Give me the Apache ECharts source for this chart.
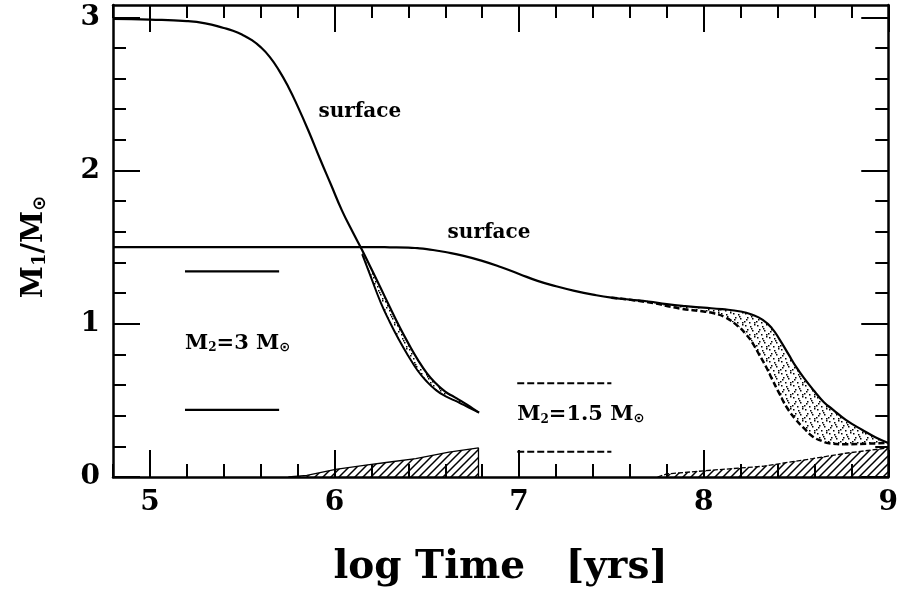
<!DOCTYPE html>
<html><head><meta charset="utf-8">
<script src="https://cdn.jsdelivr.net/npm/echarts@6/dist/echarts.min.js"></script>
<style>html,body{margin:0;padding:0;background:#fff}#c{width:901px;height:598px}</style>
</head><body><div id="c"></div>
<script>
// ---- tick values ----
const xMajorTicks = [5, 6, 7, 8, 9];
const xMinorTicks = [4.8, 5.2, 5.4, 5.6, 5.8, 6.2, 6.4, 6.6, 6.8, 7.2, 7.4, 7.6, 7.8, 8.2, 8.4, 8.6, 8.8];
const yMajorTicks = [0, 1, 2, 3];
const yMinorTicks = [0.2, 0.4, 0.6, 0.8, 1.2, 1.4, 1.6, 1.8, 2.2, 2.4, 2.6, 2.8];

// ---- M2 = 3 Msun ----
const surface3 = [[4.8,2.99],[5.0,2.985],[5.2,2.975],[5.3,2.96],[5.4,2.93],[5.45,2.912],[5.5,2.886],[5.55,2.852],[5.6,2.805],[5.65,2.74],[5.7,2.652],[5.75,2.545],[5.8,2.42],[5.86,2.256],[5.92,2.08],[5.98,1.91],[6.04,1.74],[6.1,1.595],[6.15,1.48],[6.2,1.357],[6.25,1.233],[6.3,1.108],[6.35,0.985],[6.4,0.872],[6.45,0.768],[6.5,0.678],[6.55,0.61],[6.6,0.557],[6.65,0.521],[6.7,0.485],[6.75,0.446],[6.783,0.42]];
const inner3 = [[6.15,1.455],[6.2,1.296],[6.25,1.14],[6.3,1.01],[6.35,0.894],[6.4,0.79],[6.45,0.695],[6.5,0.623],[6.55,0.567],[6.6,0.528],[6.65,0.5],[6.7,0.47],[6.75,0.44],[6.783,0.42]];
const hatch3 = [[5.75,0],[5.85,0.01],[6.006,0.05],[6.17,0.078],[6.3,0.098],[6.44,0.12],[6.62,0.162],[6.78,0.19],[6.78,0]];

// ---- M2 = 1.5 Msun ----
const surface15 = [[4.8,1.5],[6.0,1.5],[6.2,1.5],[6.3,1.499],[6.4,1.497],[6.45,1.493],[6.5,1.487],[6.55,1.478],[6.6,1.468],[6.7,1.443],[6.8,1.41],[6.9,1.37],[7.0,1.325],[7.1,1.28],[7.2,1.245],[7.3,1.215],[7.4,1.19],[7.5,1.17],[7.6,1.157],[7.7,1.145],[7.8,1.128],[7.9,1.115],[8.0,1.105],[8.1,1.095],[8.2,1.08],[8.26,1.06],[8.32,1.025],[8.37,0.97],[8.41,0.9],[8.46,0.8],[8.5,0.72],[8.55,0.635],[8.6,0.56],[8.65,0.49],[8.7,0.44],[8.77,0.373],[8.86,0.307],[8.93,0.26],[9.0,0.222]];
const inner15 = [[7.5,1.17],[7.7,1.14],[7.87,1.10],[8.0,1.08],[8.05,1.07],[8.12,1.04],[8.19,0.98],[8.23,0.93],[8.265,0.874],[8.3,0.8],[8.337,0.721],[8.37,0.64],[8.409,0.547],[8.45,0.455],[8.5,0.373],[8.55,0.31],[8.59,0.264],[8.64,0.235],[8.68,0.22],[8.77,0.214],[8.9,0.218],[9.0,0.222]];
const hatch15 = [[7.75,0],[7.8,0.02],[8.05,0.045],[8.32,0.07],[8.59,0.12],[8.77,0.155],[9.0,0.19]];

// ---- key marks ----
const keySolidTop = [[5.19,1.342],[5.70,1.342]];
const keySolidBottom = [[5.19,0.438],[5.70,0.438]];
const keyDashTop = [[6.99,0.612],[7.50,0.612]];
const keyDashBottom = [[6.99,0.165],[7.50,0.165]];

// ---- annotations ----
const surfaceLabelPos = [[6.137,2.38],[6.837,1.595]];
const surfaceLabelText = ['surface', 'surface'];
const keyLabelPos = [[5.19,0.87],[6.99,0.405]];
const keyLabelText = ['{m|M}{s|2}{m|=3 M}{o|⊙}', '{m|M}{s|2}{m|=1.5 M}{o|⊙}'];

// ---- patterns ----
function hatchCanvas() {
  const c = document.createElement('canvas'); c.width = 8; c.height = 8;
  const g = c.getContext('2d'); g.strokeStyle = '#000'; g.lineWidth = 1.5;
  g.beginPath(); g.moveTo(0,8); g.lineTo(8,0); g.moveTo(-1,1); g.lineTo(1,-1); g.moveTo(7,9); g.lineTo(9,7); g.stroke();
  return c;
}
function stippleCanvas() {
  const c = document.createElement('canvas'); c.width = 12; c.height = 12;
  const g = c.getContext('2d'); g.fillStyle = '#000';
  [[1,1],[6,2],[10,0],[3,5],[8,6],[0,9],[5,10],[10,10],[2,7],[7,4]].forEach(p => g.fillRect(p[0], p[1], 1.5, 1.5));
  return c;
}
const hatchPat = {image: hatchCanvas(), repeat: 'repeat'};
const stipPat = {image: stippleCanvas(), repeat: 'repeat'};

const serif = 'DejaVu Serif';
function bandSeries(upper, lower) {
  return {
    type: 'custom', xAxisIndex: 0, yAxisIndex: 0, data: [[upper[0][0], upper[0][1]]], silent: true, z: 1,
    renderItem: function (params, api) {
      const pts = [];
      upper.forEach(p => pts.push(api.coord(p)));
      lower.slice().reverse().forEach(p => pts.push(api.coord(p)));
      return {type: 'polygon', shape: {points: pts}, style: {fill: stipPat, stroke: null}};
    }
  };
}
function line(data, opts) {
  return Object.assign({type: 'line', data: data, xAxisIndex: 0, yAxisIndex: 0, symbol: 'none', smooth: 0.5,
    lineStyle: {color: '#000', width: 2.2}, silent: true, z: 3}, opts || {});
}
const xBase = {type: 'value', min: 4.8, max: 9, splitLine: {show: false}};
const yBase = {type: 'value', min: 0, max: 3.08, splitLine: {show: false}};
function ax(base, extra) { return Object.assign({}, base, extra); }

const chart = echarts.init(document.getElementById('c'));
chart.setOption({
  animation: false,
  backgroundColor: '#fff',
  grid: {left: 113, right: 12, top: 5, bottom: 121},
  xAxis: [
    ax(xBase, {position: 'bottom',
      axisLine: {onZero: false, lineStyle: {color: '#000', width: 2.5}},
      axisTick: {inside: true, length: 27, customValues: xMajorTicks, lineStyle: {color: '#000', width: 2}},
      axisLabel: {customValues: xMajorTicks, margin: 12, color: '#000', fontFamily: serif, fontWeight: 'bold', fontSize: 28},
      name: 'log Time   [yrs]', nameLocation: 'middle', nameGap: 71,
      nameTextStyle: {color: '#000', fontFamily: serif, fontWeight: 'bold', fontSize: 39}}),
    ax(xBase, {position: 'bottom', axisLine: {show: false, onZero: false},
      axisTick: {inside: true, length: 13, customValues: xMinorTicks, lineStyle: {color: '#000', width: 2}},
      axisLabel: {show: false}}),
    ax(xBase, {position: 'top', axisLine: {onZero: false, lineStyle: {color: '#000', width: 2.5}},
      axisTick: {inside: true, length: 27, customValues: xMajorTicks, lineStyle: {color: '#000', width: 2}},
      axisLabel: {show: false}}),
    ax(xBase, {position: 'top', axisLine: {show: false, onZero: false},
      axisTick: {inside: true, length: 13, customValues: xMinorTicks, lineStyle: {color: '#000', width: 2}},
      axisLabel: {show: false}})
  ],
  yAxis: [
    ax(yBase, {position: 'left',
      axisLine: {onZero: false, lineStyle: {color: '#000', width: 2.5}},
      axisTick: {inside: true, length: 27, customValues: yMajorTicks, lineStyle: {color: '#000', width: 2}},
      axisLabel: {customValues: yMajorTicks, margin: 13, color: '#000', fontFamily: serif, fontWeight: 'bold', fontSize: 28},
      name: '{a|M}{b|1}{a|/M}{c|⊙}', nameLocation: 'middle', nameGap: 64, nameRotate: 90,
      nameTextStyle: {color: '#000', padding: [0, 12, 0, 0], rich: {
        a: {fontFamily: serif, fontWeight: 'bold', fontSize: 29, color: '#000'},
        b: {fontFamily: serif, fontWeight: 'bold', fontSize: 18, color: '#000', verticalAlign: 'bottom', padding: [10,0,0,0]},
        c: {fontFamily: 'DejaVu Sans', fontWeight: 'bold', fontSize: 18, color: '#000', verticalAlign: 'bottom', padding: [10,0,0,0]}
      }}}),
    ax(yBase, {position: 'left', axisLine: {show: false, onZero: false},
      axisTick: {inside: true, length: 13, customValues: yMinorTicks, lineStyle: {color: '#000', width: 2}},
      axisLabel: {show: false}}),
    ax(yBase, {position: 'right', axisLine: {onZero: false, lineStyle: {color: '#000', width: 2.5}},
      axisTick: {inside: true, length: 27, customValues: yMajorTicks, lineStyle: {color: '#000', width: 2}},
      axisLabel: {show: false}}),
    ax(yBase, {position: 'right', axisLine: {show: false, onZero: false},
      axisTick: {inside: true, length: 13, customValues: yMinorTicks, lineStyle: {color: '#000', width: 2}},
      axisLabel: {show: false}})
  ],
  series: [
    bandSeries(surface3.filter(p => p[0] >= 6.15), inner3),
    bandSeries(surface15.filter(p => p[0] >= 7.5), inner15),
    line(hatch3, {smooth: false, lineStyle: {color: '#000', width: 1.3}, areaStyle: {color: hatchPat, opacity: 1}, z: 2}),
    line(hatch15, {smooth: false, lineStyle: {color: '#000', width: 1.3, type: [5, 2]}, areaStyle: {color: hatchPat, opacity: 1}, z: 2}),
    line(surface3),
    line(inner3, {lineStyle: {color: '#000', width: 2}}),
    line(surface15),
    line(inner15, {lineStyle: {color: '#000', width: 2.5, type: [6, 3]}}),
    line(keySolidTop, {smooth: false}),
    line(keySolidBottom, {smooth: false}),
    line(keyDashTop, {smooth: false, lineStyle: {color: '#000', width: 2, type: [7, 3]}}),
    line(keyDashBottom, {smooth: false, lineStyle: {color: '#000', width: 2, type: [7, 3]}}),
    {type: 'scatter', xAxisIndex: 0, yAxisIndex: 0, symbolSize: 0, silent: true, z: 5,
      itemStyle: {opacity: 1},
      data: surfaceLabelPos.map((p, i) => ({value: p, name: surfaceLabelText[i]})),
      label: {show: true, position: 'inside', formatter: p => p.name, color: '#000',
        fontFamily: serif, fontWeight: 'bold', fontSize: 20}},
    {type: 'scatter', xAxisIndex: 0, yAxisIndex: 0, symbolSize: 0, silent: true, z: 5,
      itemStyle: {opacity: 1},
      data: keyLabelPos.map((p, i) => ({value: p, name: keyLabelText[i]})),
      label: {show: true, position: 'right', distance: 0, formatter: p => p.name, color: '#000',
        rich: {
          m: {fontFamily: serif, fontWeight: 'bold', fontSize: 21, color: '#000'},
          s: {fontFamily: serif, fontWeight: 'bold', fontSize: 12, color: '#000', verticalAlign: 'bottom', padding: [8,0,0,0]},
          o: {fontFamily: 'DejaVu Sans', fontWeight: 'bold', fontSize: 13, color: '#000', verticalAlign: 'bottom', padding: [8,0,0,0]}
        }}}
  ]
});
</script></body></html>
